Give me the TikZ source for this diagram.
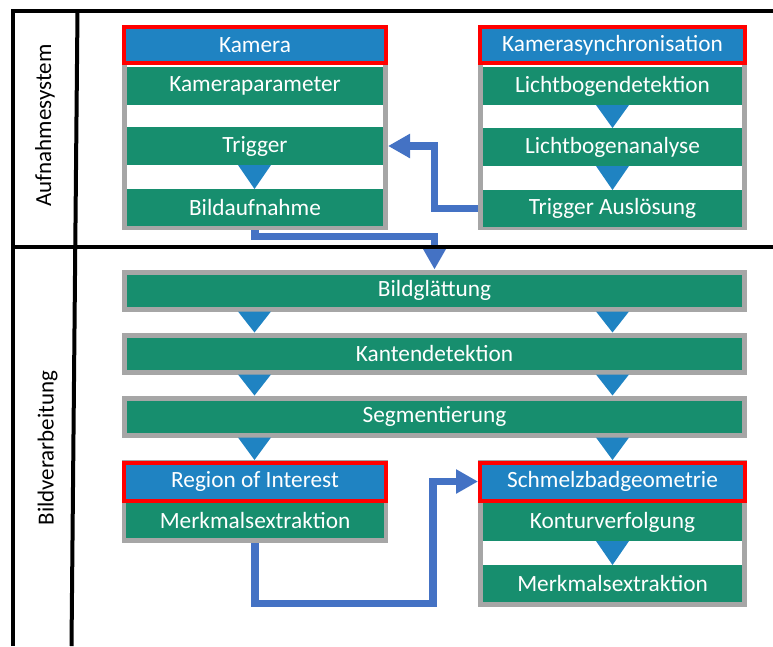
\documentclass[tikz,border=0pt]{standalone}
\usepackage{fontspec}
\setmainfont{Carlito}
\usetikzlibrary{arrows.meta,calc}
\definecolor{rowgreen}{HTML}{178E6E}
\definecolor{headblue}{HTML}{1F83C2}
\definecolor{graybox}{HTML}{A6A6A6}
\definecolor{flowblue}{HTML}{4472C4}
\definecolor{hired}{HTML}{FF0000}
\tikzset{
  base/.style={inner sep=0pt, outer sep=0pt, text=white, font=\fontsize{23.3}{28}\selectfont},
  frame/.style={draw=graybox, fill=white, line width=5pt, inner sep=0pt, outer sep=2.5pt},
  row/.style={base, fill=rowgreen, minimum height=38pt},
  head/.style={base, fill=headblue, draw=hired, line width=4pt, outer sep=2pt, minimum height=36pt},
  band/.style={base, fill=rowgreen, draw=graybox, line width=5pt, outer sep=2.5pt, minimum width=620pt, minimum height=37pt},
  tri/.style={fill=headblue},
  flow/.style={draw=flowblue, line width=7.5pt, -{Triangle[length=22pt,width=23pt]}},
  lane/.style={draw=black, line width=4pt},
  lanelabel/.style={rotate=90, inner sep=0pt, font=\fontsize{23}{28}\selectfont},
}
\begin{document}
\begin{tikzpicture}[x=1pt,y=-1pt]
\useasboundingbox (0,0) rectangle (773,646);
\coordinate (colL) at (254.5,0);
\coordinate (colR) at (612.5,0);
\coordinate (busA) at (434.5,0);
\coordinate (busB) at (433,0);
\coordinate (jogA) at (0,236.5);
\coordinate (jogB) at (0,603.5);

% Kamera block
\node[frame, minimum width=261pt, minimum height=200pt] (camframe) at (255,127.5) {};
\node[head, minimum width=262pt] (cam) at (255,45) {Kamera};
\node[row, minimum width=256pt] (kp) at (255,86) {Kameraparameter};
\node[row, minimum width=256pt] (trig) at (255,146) {Trigger};
\node[row, minimum width=256pt, minimum height=37pt] (bild) at (255,207.5) {Bildaufnahme};
\fill[tri] ($(colL |- trig.south)+(-16.5,0)$) -- ($(colL |- trig.south)+(16.5,0)$) -- (colL |- bild.north) -- cycle;

% Kamerasynchronisation block
\node[frame, minimum width=264pt, minimum height=200pt] (syncframe) at (612.5,127.5) {};
\node[head, minimum width=265pt] (sync) at (612.5,45) {Kamerasynchronisation};
\node[row, minimum width=259pt] (lbd) at (612.5,86) {Lichtbogendetektion};
\node[row, minimum width=259pt] (lba) at (612.5,147) {Lichtbogenanalyse};
\node[row, minimum width=259pt, minimum height=37pt] (tra) at (612.5,208.5) {Trigger Auslösung};
\fill[tri] ($(colR |- lbd.south)+(-16.5,0)$) -- ($(colR |- lbd.south)+(16.5,0)$) -- (colR |- lba.north) -- cycle;
\fill[tri] ($(colR |- lba.south)+(-16.5,0)$) -- ($(colR |- lba.south)+(16.5,0)$) -- (colR |- tra.north) -- cycle;

% Bildverarbeitung bands
\node[band] (glatt) at (434.5,290.5) {Bildglättung};
\node[band] (kanten) at (434.5,353.5) {Kantendetektion};
\node[band] (segm) at (434.5,416.5) {Segmentierung};
\foreach \u/\l in {glatt/kanten, kanten/segm}{
  \fill[tri] ($(colL |- \u.south)+(-16.5,0)$) -- ($(colL |- \u.south)+(16.5,0)$) -- (colL |- \l.north) -- cycle;
  \fill[tri] ($(colR |- \u.south)+(-16.5,0)$) -- ($(colR |- \u.south)+(16.5,0)$) -- (colR |- \l.north) -- cycle;
}

% Region of Interest block
\node[frame, minimum width=261pt, minimum height=78pt] (roiframe) at (255,501.5) {};
\node[head, minimum width=262pt, minimum height=38pt] (roi) at (255,481.5) {Region of Interest};
\node[row, minimum width=258pt, minimum height=35pt] (merkA) at (255,520.5) {Merkmalsextraktion};

% Schmelzbadgeometrie block
\node[frame, minimum width=264pt, minimum height=142pt] (sframe) at (612.5,533.5) {};
\node[head, minimum width=265pt, minimum height=38pt] (schm) at (612.5,481.5) {Schmelzbadgeometrie};
\node[row, minimum width=259pt] (kontur) at (612.5,522) {Konturverfolgung};
\node[row, minimum width=259pt, minimum height=37pt] (merkB) at (612.5,583.5) {Merkmalsextraktion};
\fill[tri] ($(colR |- kontur.south)+(-16.5,0)$) -- ($(colR |- kontur.south)+(16.5,0)$) -- (colR |- merkB.north) -- cycle;

\fill[tri] ($(colL |- segm.south)+(-16.5,0)$) -- ($(colL |- segm.south)+(16.5,0)$) -- (colL |- roiframe.north) -- cycle;
\fill[tri] ($(colR |- segm.south)+(-16.5,0)$) -- ($(colR |- segm.south)+(16.5,0)$) -- (colR |- sframe.north) -- cycle;

% connectors
\draw[flow] (syncframe.west |- tra.center) -- (busA |- tra.center) -- (busA |- trig.center) -- (camframe.east |- trig.center);
\draw[flow] (camframe.south) -- (camframe.south |- jogA) -- (busA |- jogA) -- (glatt.north);
\draw[flow] (roiframe.south) -- (roiframe.south |- jogB) -- (busB |- jogB) -- (busB |- schm.center) -- (sframe.west |- schm.center);

% swimlane frame
\draw[lane] (12.5,646) -- (12.5,11) -- (773,11);
\draw[lane] (77.5,11) -- (71.5,646);
\draw[lane] (12.5,247) -- (773,247);
\node[lanelabel] (aufn) at (45,125.5) {Aufnahmesystem};
\node[lanelabel] (bildv) at (47.5,448) {Bildverarbeitung};
\end{tikzpicture}
\end{document}
